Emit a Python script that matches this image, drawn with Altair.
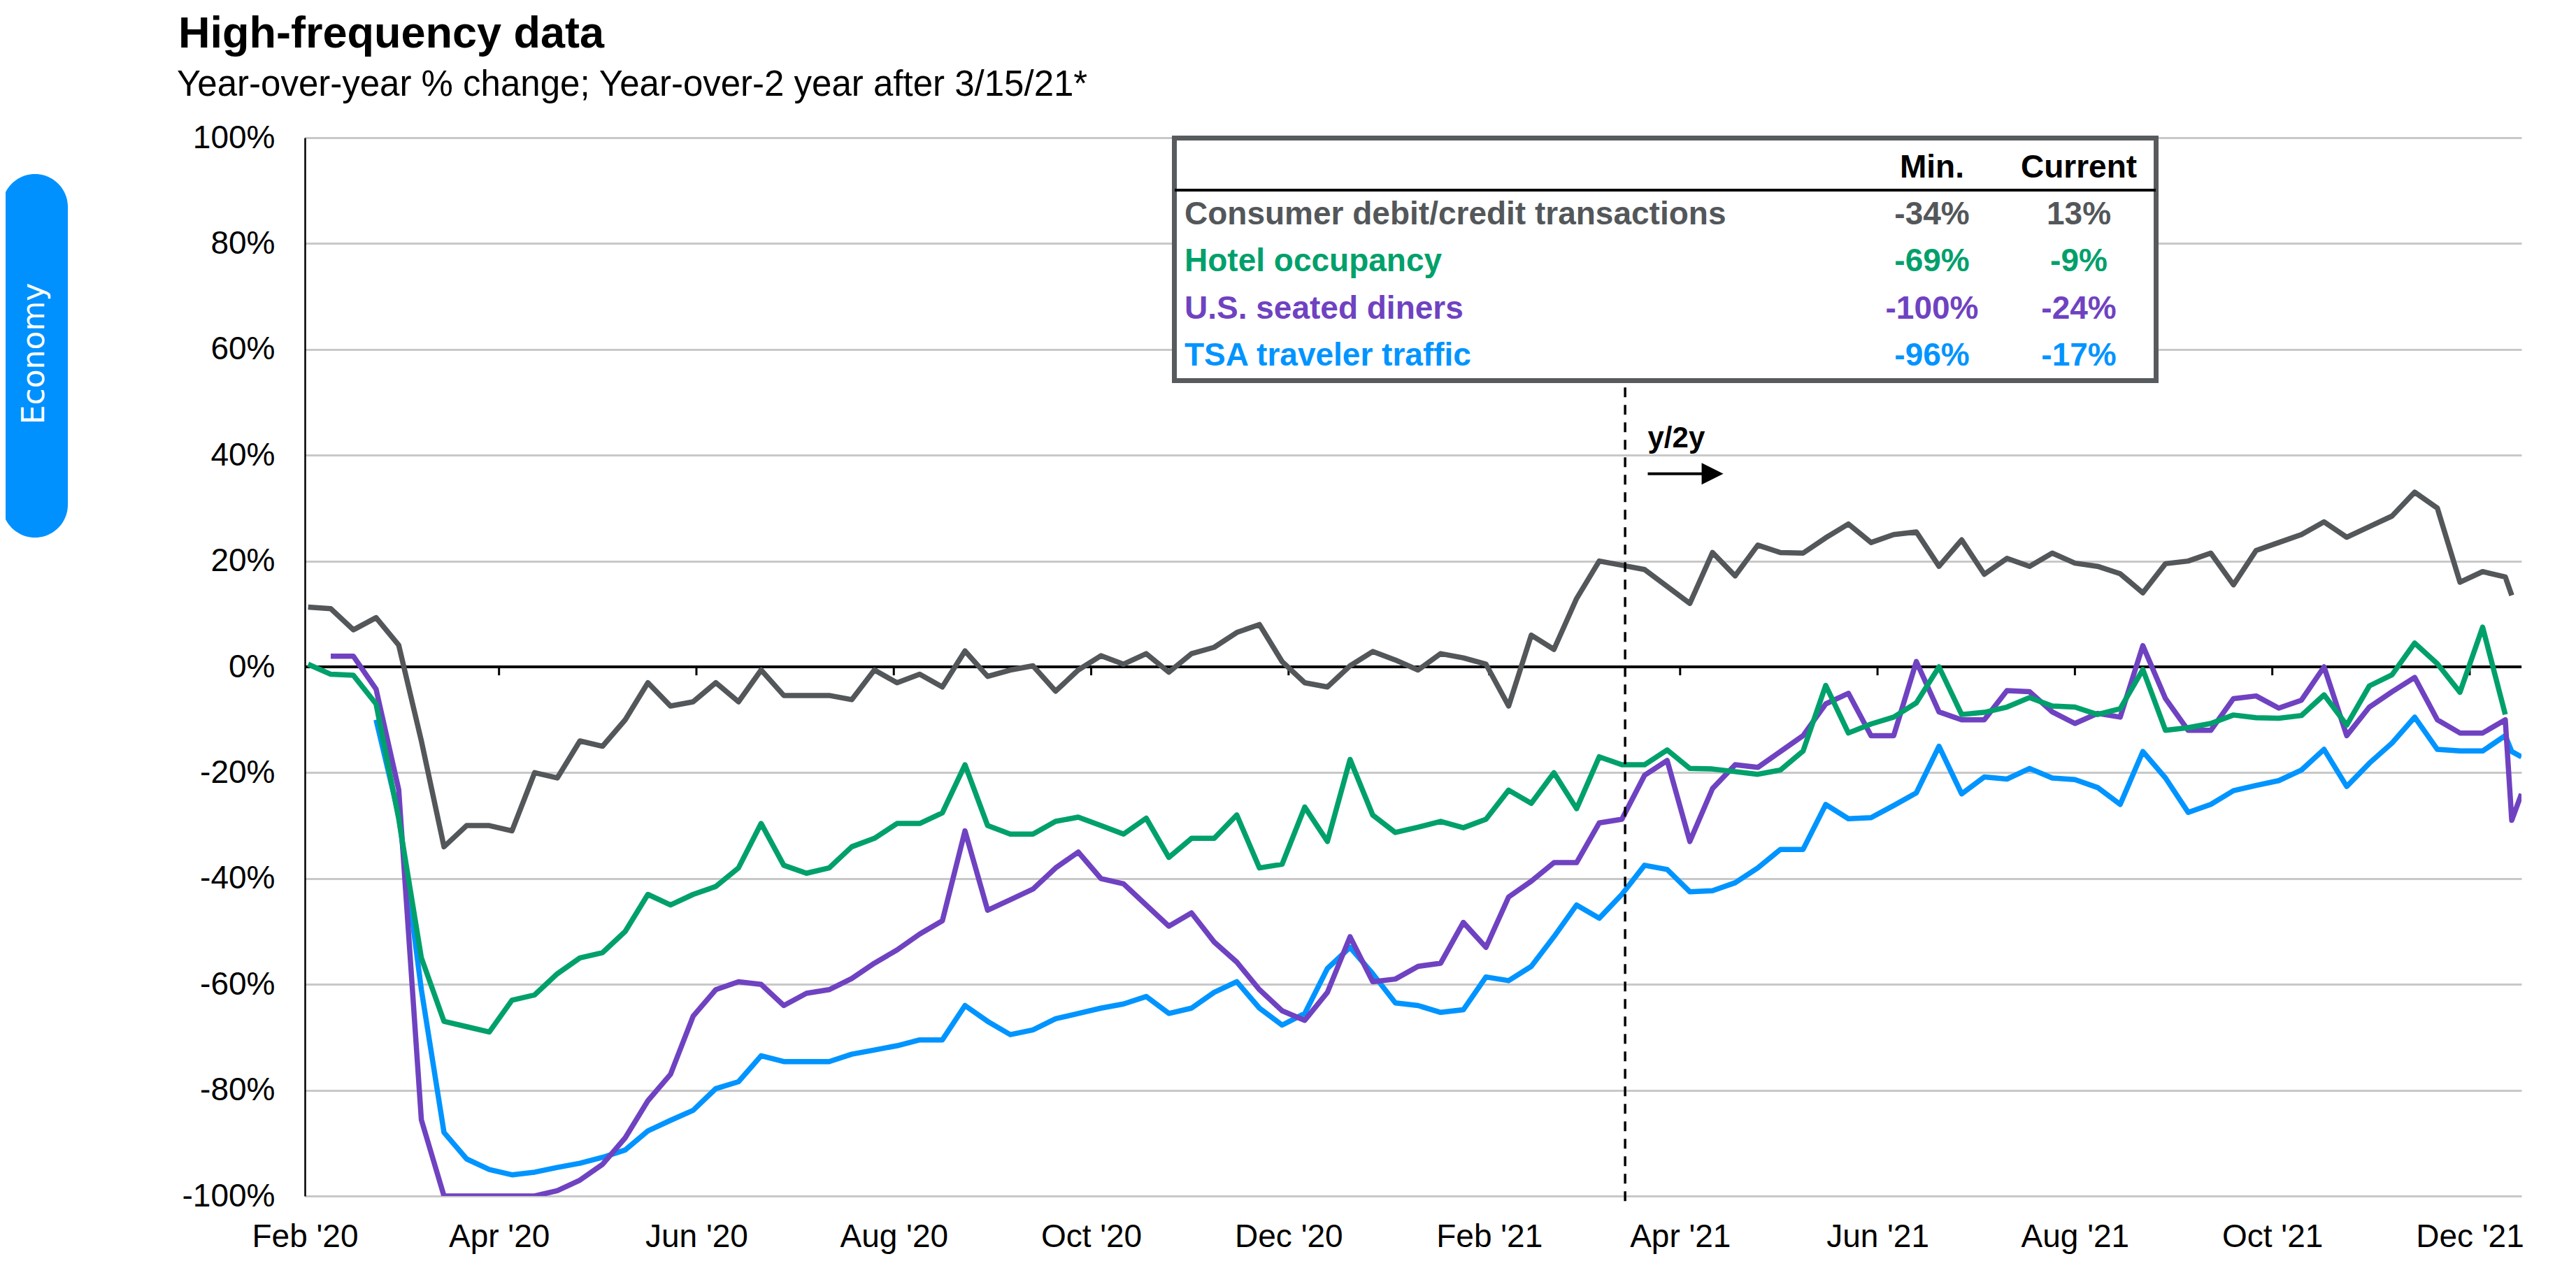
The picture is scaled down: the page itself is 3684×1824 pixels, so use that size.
import altair as alt
import pandas as pd

# weekly readings from 2 Feb 2020, plus the last two daily points
dates = list(pd.date_range("2020-02-02", periods=98, freq="7D")) + [
    pd.Timestamp("2021-12-14"),
    pd.Timestamp("2021-12-17"),
]

consumer = [
    11.3, 11.0, 7.0, 9.3, 4.1, -14.0, -34.0, -30.0, -30.0, -31.0,
    -20.0, -21.0, -14.0, -15.0, -10.0, -3.0, -7.4, -6.6, -3.0, -6.6,
    -0.6, -5.4, -5.4, -5.4, -6.2, -0.6, -3.0, -1.4, -3.8, 3.0,
    -1.8, -0.6, 0.2, -4.6,
    -0.6, 2.1, 0.5, 2.5, -1.0, 2.5, 3.7, 6.5, 8.0, 1.0,
    -3.0, -3.8, 0.2, 2.9, 1.3, -0.6, 2.5, 1.7, 0.5, -7.4,
    6.0, 3.3, 12.9, 20.0, 19.2, 18.4, 15.2, 12.0, 21.6, 17.2,
    23.0, 21.6,
    21.5, 24.4, 27.0, 23.5, 25.0, 25.5, 19.0, 24.0, 17.5, 20.5,
    19.0, 21.5, 19.6, 19.0, 17.6, 14.0, 19.5, 20.0, 21.5, 15.5,
    22.0, 23.5, 25.0, 27.4, 24.5, 26.5, 28.5, 33.0, 30.0, 16.0,
    18.0, 17.0,
    13.5, None,
]

hotel = [
    0.5, -1.4, -1.6, -7.0, -28.7, -55.0, -67.0, -68.0, -69.0, -63.0,
    -62.0, -58.0, -55.0, -54.0, -50.0, -43.0, -45.0, -43.0, -41.5, -38.0,
    -29.6, -37.5, -39.0, -38.0, -34.0, -32.4, -29.6, -29.6, -27.6, -18.5,
    -30.0, -31.6, -31.6, -29.2,
    -28.4, -30.0, -31.6, -28.6, -36.0, -32.4, -32.4, -28.0, -38.0, -37.3,
    -26.5, -33.0, -17.5, -28.0, -31.3, -30.3, -29.2, -30.4, -28.8, -23.3,
    -25.8, -20.0, -26.8, -17.0, -18.5, -18.5, -15.7, -19.2, -19.3, -19.8,
    -20.3, -19.5,
    -15.9, -3.5, -12.5, -10.8, -9.5, -6.8, 0.0, -9.0, -8.6, -7.6,
    -5.8, -7.4, -7.6, -9.0, -7.9, -0.5, -12.0, -11.5, -10.7, -9.1,
    -9.6, -9.7, -9.2, -5.3, -11.0, -3.6, -1.5, 4.5, 0.6, -4.8,
    7.5, -9.0,
    None, None,
]

diners = [
    None, 2.0, 2.0, -4.2, -23.2, -85.6, -100.0, -100.0, -100.0, -100.0,
    -100.0, -99.0, -97.0, -94.0, -89.0, -82.0, -77.0, -66.0, -61.0, -59.5,
    -60.0, -64.0, -61.7, -61.0, -58.9, -56.0, -53.5, -50.5, -48.0, -31.0,
    -46.0, -44.0, -42.0, -38.0,
    -35.0, -40.0, -41.0, -45.0, -49.0, -46.5, -52.0, -55.8, -61.0, -65.0,
    -66.8, -61.5, -51.0, -59.5, -59.0, -56.6, -56.0, -48.3, -53.0, -43.5,
    -40.5, -37.0, -37.0, -29.5, -28.8, -20.5, -17.7, -33.0, -23.0, -18.5,
    -19.0, -16.0,
    -13.0, -7.0, -5.0, -13.0, -13.0, 1.0, -8.5, -10.0, -10.0, -4.5,
    -4.7, -8.5, -10.7, -8.8, -9.5, 4.0, -6.0, -12.0, -12.0, -6.0,
    -5.5, -7.8, -6.3, 0.0, -13.0, -7.6, -4.7, -2.0, -10.0, -12.5,
    -12.5, -10.0,
    -29.0, -24.0,
]

tsa = [
    None, None, None, -10.0, -28.0, -61.0, -88.0, -93.0, -95.0, -96.0,
    -95.5, -94.6, -93.8, -92.7, -91.3, -87.7, -85.7, -83.8, -79.7, -78.4,
    -73.5, -74.6, -74.6, -74.6, -73.2, -72.4, -71.6, -70.5, -70.5, -64.0,
    -67.0, -69.5, -68.6, -66.5,
    -65.5, -64.5, -63.7, -62.3, -65.5, -64.5, -61.5, -59.5, -64.5, -67.7,
    -65.5, -57.0, -53.0, -58.0, -63.5, -64.0, -65.3, -64.8, -58.6, -59.3,
    -56.6, -51.0, -45.0, -47.5, -43.0, -37.5, -38.3, -42.5, -42.3, -40.8,
    -38.0, -34.5,
    -34.5, -26.0, -28.7, -28.5, -26.2, -23.8, -15.0, -24.0, -20.8, -21.2,
    -19.2, -21.0, -21.3, -22.8, -26.0, -16.0, -21.0, -27.5, -26.0, -23.4,
    -22.4, -21.5, -19.5, -15.6, -22.6, -18.2, -14.4, -9.5, -15.6, -15.9,
    -15.9, -13.0,
    -16.0, -17.0,
]

series_names = [
    "Consumer debit/credit transactions",
    "Hotel occupancy",
    "U.S. seated diners",
    "TSA traveler traffic",
]
series_colors = ["#53575a", "#00a06b", "#6f42c1", "#0094ff"]
table_min = ["-34%", "-69%", "-100%", "-96%"]
table_current = ["13%", "-9%", "-24%", "-17%"]

tick_months = [
    (2020, 2), (2020, 4), (2020, 6), (2020, 8), (2020, 10), (2020, 12),
    (2021, 2), (2021, 4), (2021, 6), (2021, 8), (2021, 10), (2021, 12),
]
y_ticks = [-100, -80, -60, -40, -20, 0, 20, 40, 60, 80, 100]

W, H = 3170, 1514
FONT = "Liberation Sans"

x_scale = alt.Scale(domain=[
    alt.DateTime(year=2020, month=2, date=1),
    alt.DateTime(year=2021, month=12, date=17),
])
y_scale = alt.Scale(domain=[-100, 100], nice=False)

x_axis = alt.Axis(
    title=None,
    values=[alt.DateTime(year=y, month=m, date=1) for y, m in tick_months],
    format="%b '%y",
    labelFont=FONT, labelFontSize=46, labelColor="black",
    labelPadding=36, ticks=False, domain=False, grid=False,
    labelFlush=False, labelOverlap=False,
)
y_axis = alt.Axis(
    title=None, values=y_ticks, labelExpr="datum.value + '%'",
    labelFont=FONT, labelFontSize=46, labelColor="black", labelPadding=43,
    ticks=False, domain=True, domainColor="black", domainWidth=2.5,
    grid=True, gridColor="#c8c8c8", gridWidth=3,
)


# every layer carries the same axis spec so the shared axes merge cleanly
def X(field):
    return alt.X(field, type="temporal", scale=x_scale, axis=x_axis)


def Y(field):
    return alt.Y(field, type="quantitative", scale=y_scale, axis=y_axis)


def series_line(values, color):
    df = pd.DataFrame({"date": dates, "value": values}).dropna()
    return alt.Chart(df).mark_line(
        color=color, strokeWidth=7.5, strokeJoin="round", clip=True
    ).encode(x=X("date"), y=Y("value"))


def label(text, x, y, size, color="black", weight="normal", align="left"):
    return alt.Chart(pd.DataFrame({"t": [0]})).mark_text(
        text=text, font=FONT, fontSize=size, fontWeight=weight, color=color,
        align=align, baseline="alphabetic",
    ).encode(x=alt.value(x), y=alt.value(y))


one = pd.DataFrame({"t": [0]})

tick_df = pd.DataFrame({
    "date": [pd.Timestamp(year=y, month=m, day=1) for y, m in tick_months[1:]],
    "y": 0, "y2": -1.6,
})
zero_ticks = alt.Chart(tick_df).mark_rule(color="black", strokeWidth=3).encode(
    x=X("date"), y=Y("y"), y2="y2:Q",
)

zero = alt.Chart(pd.DataFrame({"y": [0]})).mark_rule(
    color="black", strokeWidth=4
).encode(y=Y("y"))

split = alt.Chart(pd.DataFrame({"date": [pd.Timestamp("2021-03-15")], "top": [52.8]})).mark_rule(
    color="black", strokeWidth=3.5, strokeDash=[14, 11]
).encode(x=X("date"), y=Y("top"), y2=alt.value(H + 11))

y2y_text = alt.Chart(pd.DataFrame({"date": [pd.Timestamp("2021-03-22")], "v": [41.5]})).mark_text(
    text="y/2y", font=FONT, fontSize=42, fontWeight="bold", align="left",
    baseline="alphabetic", color="black",
).encode(x=X("date"), y=Y("v"))

arrow_line = alt.Chart(pd.DataFrame({
    "start": [pd.Timestamp("2021-03-22")], "end": [pd.Timestamp("2021-04-08")], "v": [36.5],
})).mark_rule(color="black", strokeWidth=4).encode(
    x=X("start"), x2="end:T", y=Y("v"),
)
arrow_head = alt.Chart(pd.DataFrame({"date": [pd.Timestamp("2021-04-11")], "v": [36.5]})).mark_point(
    shape="M-1,-1L1,0L-1,1Z", filled=True, size=960, color="black", opacity=1
).encode(x=X("date"), y=Y("v"))

# table box (acts as legend)
box = alt.Chart(one).mark_rect(
    fill="white", stroke="#575b5e", strokeWidth=7
).encode(
    x=alt.value(1243.5), x2=alt.value(2647.5),
    y=alt.value(0.5), y2=alt.value(347.5),
)
header_rule = alt.Chart(one).mark_rule(color="black", strokeWidth=4).encode(
    x=alt.value(1244), x2=alt.value(2647), y=alt.value(75),
)

table_layers = [
    box, header_rule,
    label("Min.", 2327, 57, 46, weight="bold", align="center"),
    label("Current", 2537, 57, 46, weight="bold", align="center"),
]
row_y = [124, 191, 259, 326]
for name, mn, cur, col, yy in zip(series_names, table_min, table_current, series_colors, row_y):
    table_layers += [
        label(name, 1258, yy, 46, color=col, weight="bold"),
        label(mn, 2327, yy, 46, color=col, weight="bold", align="center"),
        label(cur, 2537, yy, 46, color=col, weight="bold", align="center"),
    ]

# side tab
tab = alt.Chart(one).mark_rect(color="#0091ff", cornerRadius=47).encode(
    x=alt.value(-433), x2=alt.value(-339), y=alt.value(52), y2=alt.value(572),
)
tab_text = alt.Chart(one).mark_text(
    text="Economy", font="DejaVu Sans", fontSize=44, color="white",
    angle=270, align="center", baseline="middle",
).encode(x=alt.value(-386), y=alt.value(309))

title = label("High-frequency data", -181, -129, 63, weight="bold")
subtitle = label("Year-over-year % change; Year-over-2 year after 3/15/21*", -183, -60, 51)

lines = [
    series_line(tsa, series_colors[3]),
    series_line(diners, series_colors[2]),
    series_line(hotel, series_colors[1]),
    series_line(consumer, series_colors[0]),
]

chart = alt.layer(
    zero_ticks, zero, *lines, split, y2y_text, arrow_line, arrow_head,
    *table_layers, tab, tab_text, title, subtitle,
).properties(
    width=W, height=H,
    autosize=alt.AutoSizeParams(type="none"),
    padding={"left": 428, "top": 189, "right": 70, "bottom": 100},
    background="white",
).configure_view(strokeWidth=0)

chart.save("out.html", embed_options={"renderer": "svg", "actions": False})
